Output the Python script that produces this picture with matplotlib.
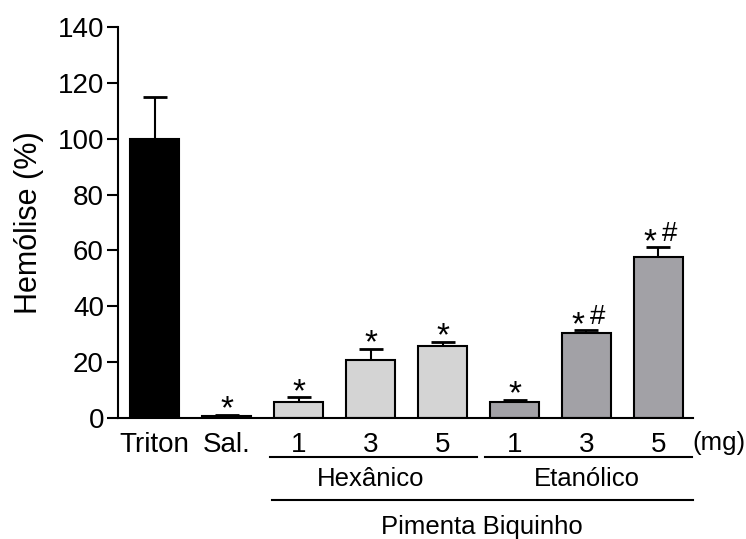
import matplotlib
matplotlib.use('Agg')
import matplotlib.pyplot as plt

# data
labels = ['Triton', 'Sal.', '1', '3', '5', '1', '3', '5']
values = [100, 0.8, 5.9, 20.8, 25.6, 5.9, 30.4, 57.5]
errors = [14.8, 0.3, 1.5, 3.8, 1.6, 0.6, 1.2, 3.7]
marks = ['', '*', '*', '*', '*', '*', '*#', '*#']
colors = ['#000000', '#707070', '#d4d4d4', '#d4d4d4', '#d4d4d4',
          '#a2a1a6', '#a2a1a6', '#a2a1a6']

plt.rcParams['font.family'] = ['Liberation Sans', 'DejaVu Sans']

fig = plt.figure(figsize=(7.46, 5.39), dpi=100)
ax = fig.add_axes([0.158, 0.2245, 0.771, 0.7255])

x = list(range(len(values)))
ax.bar(x, values, width=0.67, color=colors, edgecolor='black', linewidth=1.5, zorder=2)
ax.errorbar(x, values, yerr=[[0] * len(errors), errors], fmt='none', ecolor='black',
            elinewidth=1.5, capsize=8.5, capthick=2, zorder=1)

# significance marks above error bars
for xi, v, e, m in zip(x, values, errors, marks):
    if m == '*':
        ax.annotate('*', (xi, v + e), xytext=(0, -2.5), textcoords='offset points',
                    ha='center', va='baseline', fontsize=24)
    elif m == '*#':
        ax.annotate('*', (xi, v + e), xytext=(-6, -3), textcoords='offset points',
                    ha='center', va='baseline', fontsize=24)
        ax.annotate('#', (xi, v + e), xytext=(8, 4), textcoords='offset points',
                    ha='center', va='baseline', fontsize=20)

ax.set_xlim(-0.51, 7.48)
ax.set_ylim(0, 140)
ax.set_yticks(range(0, 141, 20))
ax.set_xticks(x)
ax.set_xticklabels(labels)
ax.tick_params(axis='x', length=0, pad=10, labelsize=20)
ax.tick_params(axis='y', length=8, width=1.5, labelsize=20, pad=2)
ax.spines['top'].set_visible(False)
ax.spines['right'].set_visible(False)
ax.spines['left'].set_linewidth(1.5)
ax.spines['bottom'].set_linewidth(1.5)
ax.set_ylabel('Hemólise (%)', fontsize=22, labelpad=10)

# group lines and labels below the axis
tr = ax.get_xaxis_transform()
ax.plot([1.60, 4.48], [-0.10, -0.10], color='black', lw=1.5, transform=tr, clip_on=False)
ax.plot([4.59, 7.47], [-0.10, -0.10], color='black', lw=1.5, transform=tr, clip_on=False)
ax.plot([1.63, 7.48], [-0.21, -0.21], color='black', lw=1.5, transform=tr, clip_on=False)
ax.text(3.0, -0.157, 'Hexânico', transform=tr, ha='center', va='center', fontsize=18.5)
ax.text(6.0, -0.157, 'Etanólico', transform=tr, ha='center', va='center', fontsize=18.5)
ax.text(4.55, -0.28, 'Pimenta Biquinho', transform=tr, ha='center', va='center', fontsize=18.5)
ax.text(7.47, -0.065, '(mg)', transform=tr, ha='left', va='center', fontsize=18.5)

fig.savefig('out.png', dpi=100)
